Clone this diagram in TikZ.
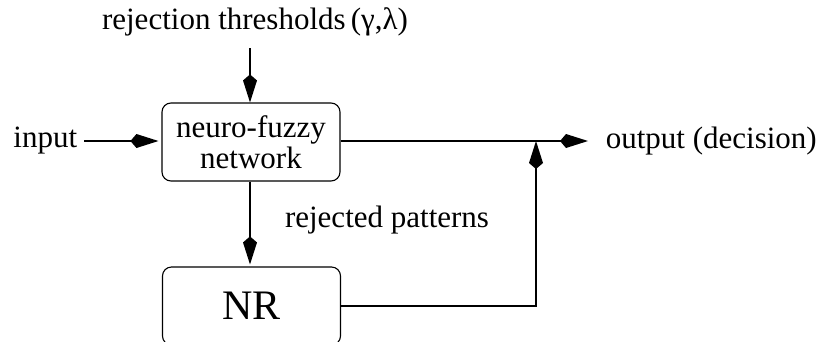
\documentclass[tikz,border=0pt]{standalone}
\usepackage{fontspec}
\setmainfont{Liberation Serif}
\usetikzlibrary{arrows.meta}
\begin{document}
\begin{tikzpicture}[x=1pt,y=-1pt,
  line width=1.7pt,
  kite/.style={-{Kite[length=28pt,width=14pt,inset=6pt]}},
  block/.style={draw,line width=1.1pt,rounded corners=9pt,minimum width=178pt,minimum height=78pt,inner sep=0pt,align=center},
  lbl/.style={inner sep=0pt,font=\fontsize{31}{31}\selectfont}]
  \useasboundingbox (0,0) rectangle (819,341);
  \begin{scope}
  \clip (0,0) rectangle (819,341);
  % blocks
  \node[block,font=\fontsize{31}{31}\selectfont] (nf) at (251,142) {neuro-fuzzy\\network};
  \node[block,font=\fontsize{42}{42}\selectfont] (nr) at (251.5,306) {NR};
  % labels
  \node[lbl] (thr) at (255,22) {rejection thresholds\,(γ,λ)};
  \node[lbl,anchor=east] (in) at (78,141) {input};
  \node[lbl,anchor=west] (out) at (605,141) {output (decision)};
  \node[lbl] (rej) at (387,220) {rejected patterns};
  \coordinate (tin) at (250,48);
  \coordinate (oend) at (588,141);
  \coordinate (join) at (536,141);
  % connectors
  \draw[kite] (tin) -- (tin |- nf.north);
  \draw[kite,shorten >=3pt] ([xshift=6pt]in.east) -- (nf.west |- in.east);
  \draw[kite] (nf.east |- oend) -- (oend);
  \draw[kite,shorten >=2pt] (nf.south -| tin) -- (nr.north -| tin);
  \draw[kite] (nr.east) -| (join);
  \end{scope}
\end{tikzpicture}
\end{document}
